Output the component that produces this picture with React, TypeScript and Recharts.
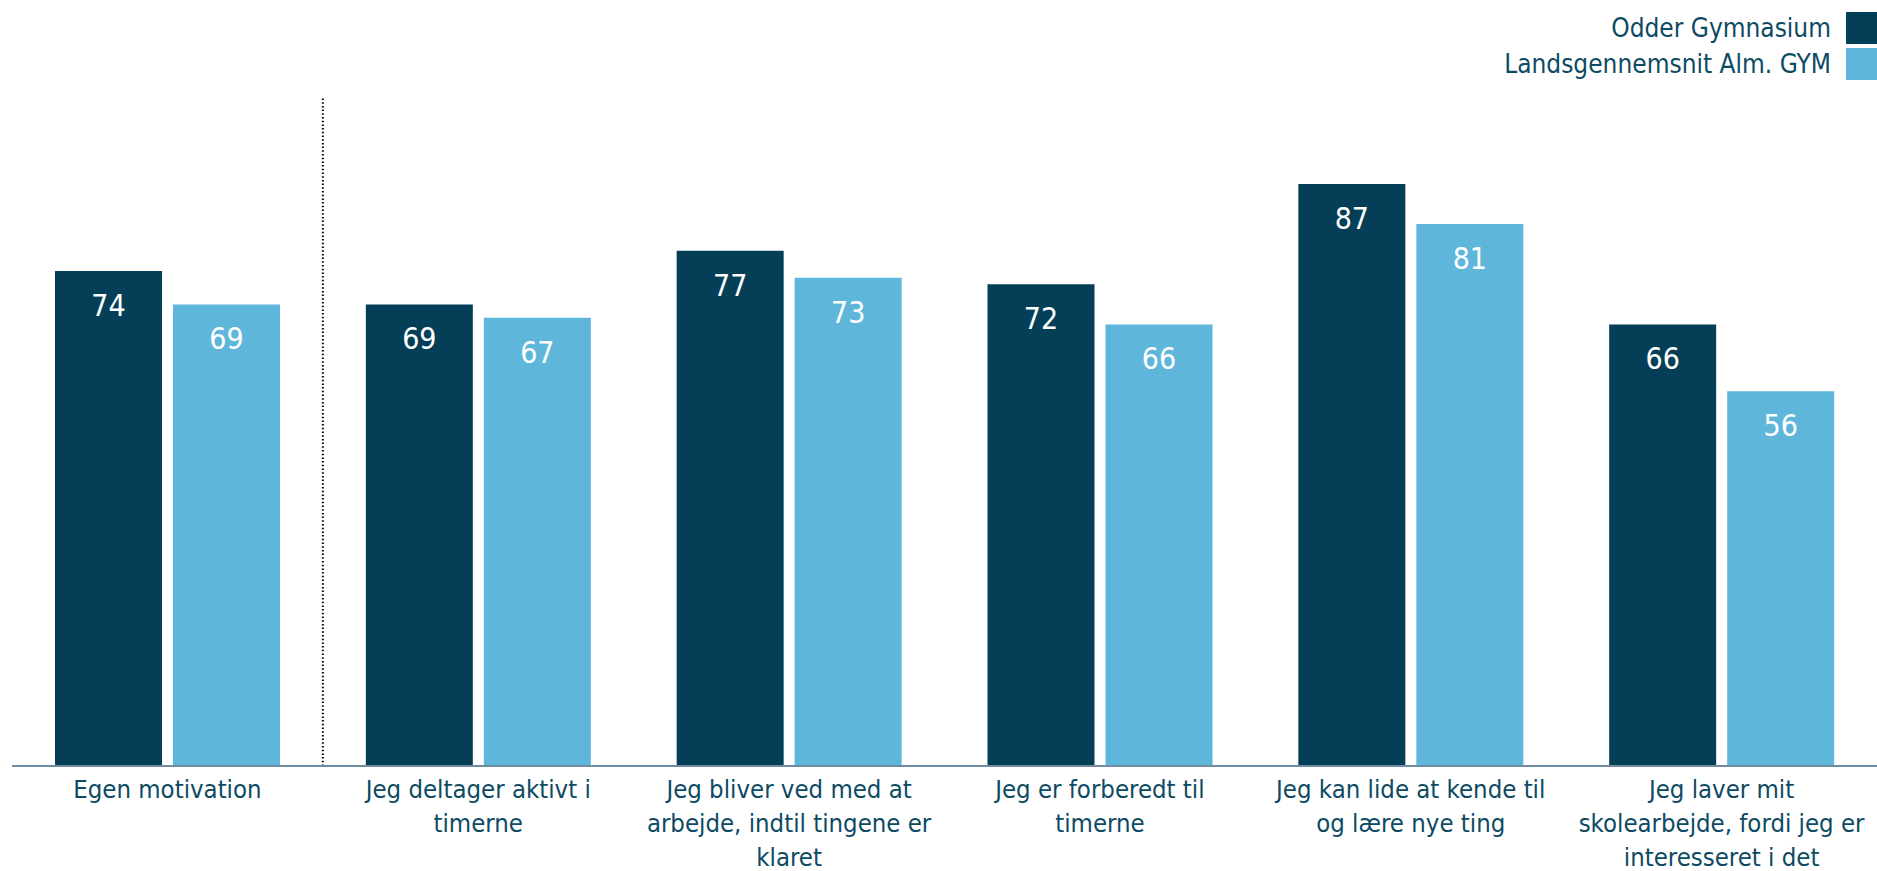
import { BarChart, Bar, XAxis, YAxis, ReferenceLine, LabelList } from 'recharts'

const categories = [
  'Egen motivation',
  'Jeg deltager aktivt i\ntimerne',
  'Jeg bliver ved med at\narbejde, indtil tingene er\nklaret',
  'Jeg er forberedt til\ntimerne',
  'Jeg kan lide at kende til\nog lære nye ting',
  'Jeg laver mit\nskolearbejde, fordi jeg er\ninteresseret i det',
]
const odder = [74, 69, 77, 72, 87, 66]
const national = [69, 67, 73, 66, 81, 56]
const seriesNames = ['Odder Gymnasium', 'Landsgennemsnit Alm. GYM']

const DARK = '#043F57'
const LIGHT = '#5FB6DB'
const TEXT = '#0D4A63'
const FONT = "'DejaVu Sans Condensed', 'DejaVu Sans', sans-serif"

const W = 1877
const H = 871

const data = categories.map((name, i) => ({ name, odder: odder[i], national: national[i] }))

function CategoryTick({ x, y, payload }: any) {
  const lines = String(payload.value).split('\n')
  return (
    <text x={x} y={y} textAnchor="middle" fill={TEXT} fontSize={25.5} fontFamily={FONT} style={{ fontStretch: 'condensed' }}>
      {lines.map((l, i) => (
        <tspan key={i} x={x} dy={i === 0 ? 32 : 34}>{l}</tspan>
      ))}
    </text>
  )
}

function ValueLabel({ x, y, width, value }: any) {
  return (
    <text x={x + width / 2} y={y + 45} textAnchor="middle" fill="#fff" fontSize={30} fontFamily={FONT} style={{ fontStretch: 'condensed' }}>
      {value}
    </text>
  )
}

export default function App() {
  const colors = [DARK, LIGHT]
  return (
    <div style={{ position: 'absolute', left: 0, top: 0, width: W, height: H, background: '#fff' }}>
      <BarChart width={W} height={H} data={data} margin={{ top: 97, right: 0, left: 12, bottom: 0 }} barSize={107} barGap={11}>
        <YAxis hide domain={[0, 100]} />
        <XAxis dataKey="name" interval={0} tickLine={false} tickSize={0} tickMargin={0} height={105}
          axisLine={{ stroke: '#6F8CA3', strokeWidth: 2 }} tick={<CategoryTick />} />
        <ReferenceLine x={categories[0]} position="end" stroke="#000" strokeWidth={2} strokeDasharray="1.5 2.2" />
        <Bar dataKey="odder" name={seriesNames[0]} fill={DARK} isAnimationActive={false}>
          <LabelList dataKey="odder" content={<ValueLabel />} />
        </Bar>
        <Bar dataKey="national" name={seriesNames[1]} fill={LIGHT} isAnimationActive={false}>
          <LabelList dataKey="national" content={<ValueLabel />} />
        </Bar>
      </BarChart>
      <div style={{ position: 'absolute', right: 0, top: 12, fontFamily: FONT, fontStretch: 'condensed', fontSize: 26, color: TEXT }}>
        {seriesNames.map((n, i) => (
          <div key={n} style={{ display: 'flex', alignItems: 'center', justifyContent: 'flex-end', height: 32, marginBottom: 4 }}>
            <span style={{ marginRight: 15, lineHeight: '32px' }}>{n}</span>
            <span style={{ width: 31, height: 32, background: colors[i], display: 'inline-block' }} />
          </div>
        ))}
      </div>
    </div>
  )
}
